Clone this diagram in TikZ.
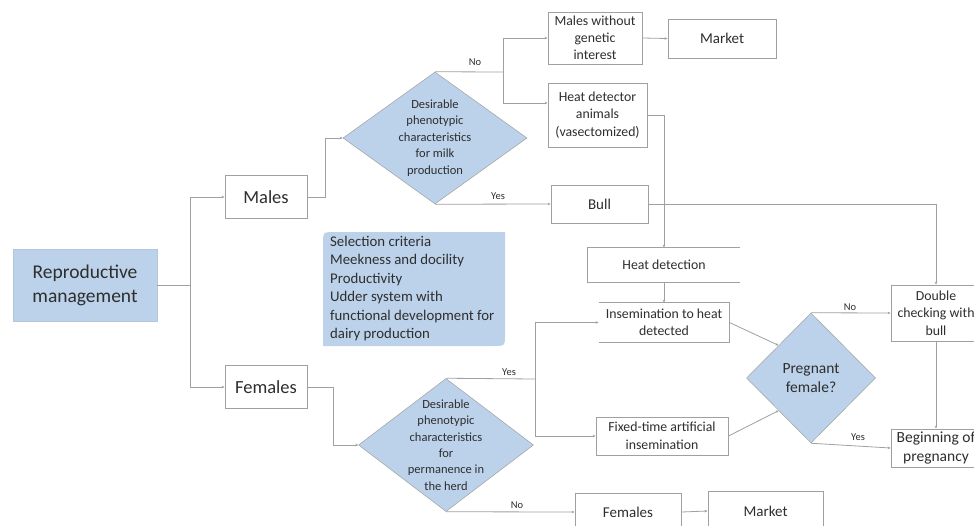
\documentclass[tikz,border=0pt]{standalone}
\usepackage{fontspec}
\setmainfont{Carlito}
\usetikzlibrary{shapes.geometric,arrows.meta,calc}
\definecolor{boxblue}{HTML}{BCD2EA}
\definecolor{edgegray}{HTML}{A0A0A0}
\definecolor{ink}{HTML}{2E2E2E}
\tikzset{
  box/.style={draw=edgegray, line width=0.9pt, fill=white, inner sep=0pt,
    align=center, text=ink, font=\fontsize{13.8}{17.5}\selectfont},
  openbox/.style={box, draw=none},
  bigtext/.style={font=\fontsize{18.5}{22}\selectfont},
  roottext/.style={font=\fontsize{19.5}{24}\selectfont},
  midtext/.style={font=\fontsize{15}{18}\selectfont},
  decide/.style={diamond, draw=edgegray, fill=boxblue, line width=0.5pt, inner sep=0pt},
  decidetext/.style={align=center, text=ink, font=\fontsize{12.5}{16.4}\selectfont},
  flow/.style={draw=edgegray, line width=0.8pt},
  arr/.style={flow, -{Stealth[length=3pt,width=2.6pt]}},
  lab/.style={font=\fontsize{10.5}{12}\selectfont, text=ink},
  rim/.style={draw=edgegray, line width=0.9pt},
}
\begin{document}
\begin{tikzpicture}[x=1pt,y=-1pt]
\useasboundingbox (0,0) rectangle (974,525);
\clip (0,0) rectangle (974,525);

% root and the two herd groups
\node[box, fill=boxblue, draw=boxblue!85!gray, roottext, minimum width=144, minimum height=72] (rm) at (85,285) {Reproductive\\management};
\node[box, bigtext, minimum width=82, minimum height=43] (males) at (266,197) {Males};
\node[box, bigtext, minimum width=82, minimum height=43] (females) at (266,387) {Females};

% decision on males
\node[decide, minimum width=184, minimum height=132] (d1) at (435,138) {};
\node[decidetext] (d1t) at (d1) {Desirable\\phenotypic\\characteristics\\for milk\\production};

\node[box, font=\fontsize{13.8}{17}\selectfont, minimum width=94, minimum height=52] (mwgi) at (595,38) {Males without\\genetic\\interest};
\node[box, midtext, minimum width=108, minimum height=39] (market1) at (722,38.5) {Market};
\node[box, minimum width=99, minimum height=64] (hda) at (597.5,115) {Heat detector\\animals\\(vasectomized)};
\node[box, midtext, minimum width=97, minimum height=38] (bull) at (599.5,204) {Bull};

% selection criteria note
\fill[boxblue] (323,244) .. controls (323,232) .. (335,232) -- (505,232) -- (505,334)
  .. controls (505,346) .. (493,346) -- (323,346) -- cycle;
\node[anchor=north west, align=left, inner sep=0pt, text=ink, font=\fontsize{14.8}{18.4}\selectfont] (crit) at (330,236)
  {Selection criteria\\Meekness and docility\\Productivity\\Udder system with\\functional development for\\dairy production};

% heat detection and insemination
\node[openbox, minimum width=152, minimum height=34] (hd) at (664,265) {Heat detection};
\draw[rim] (hd.north east) -- (hd.north west) -- (hd.south west) -- (hd.south east);
\node[openbox, minimum width=130, minimum height=39] (ins) at (664,322.5) {Insemination to heat\\detected};
\draw[rim] (ins.north west) -- (ins.north east) -- (ins.south east) -- (ins.south west);
\node[box, minimum width=132, minimum height=38] (ft) at (662,436) {Fixed-time artificial\\insemination};

% pregnancy check
\node[decide, minimum width=129, minimum height=130] (pd) at (811,378) {};
\node[decidetext, font=\fontsize{15.5}{19}\selectfont] (pdt) at (pd) {Pregnant\\female?};
\node[box, minimum width=90, minimum height=56] (dc) at (936,313) {Double\\checking with\\bull};
\node[box, font=\fontsize{15.5}{19}\selectfont, minimum width=90, minimum height=38] (bp) at (936,448) {Beginning of\\pregnancy};

% decision on females
\node[decide, minimum width=175, minimum height=133] (d2) at (446,445) {};
\node[decidetext] (d2t) at (d2) {Desirable\\phenotypic\\characteristics\\for\\permanence in\\the herd};
\node[box, midtext, minimum width=106, minimum height=38] (f2) at (628,512) {Females};
\node[box, midtext, minimum width=115, minimum height=40] (market2) at (765.5,511) {Market};

% connectors
\coordinate (j1) at (190,285);
\draw[flow] (rm.east) -- (j1);
\draw[arr] (j1) |- (males.west);
\draw[arr] (j1) |- (females.west);

\draw[arr] (males.east) -- ++(18,0) |- (d1.west);
\coordinate (j3) at (503,72);
\draw[flow] (d1.north) -- (j3);
\draw[arr] (j3) |- (mwgi.west);
\draw[arr] (j3) |- ($(hda.west)+(0,-12)$);
\node[lab] (no1) at (475,62) {No};
\draw[arr] (mwgi.east) -- (market1.west);
\draw[arr] (d1.south) -- (bull.west);
\node[lab] (yes1) at (498,196) {Yes};

\draw[arr] (hda.east) -| (hd.north);
\draw[arr] (hd.south) -- (ins.north);
\draw[arr] (bull.east) -| (dc.north);

\draw[arr] (ins.east) -- (pd.north west);
\draw[arr] (ft.east) -- (pd.south west);
\draw[arr] (pd.north) -- (dc.west);
\node[lab] (no2) at (850,307) {No};
\draw[arr] (dc.south) -- (bp.north);
\draw[arr] (pd.south) -- (bp.west);
\node[lab] (yes2) at (858,437) {Yes};

\draw[arr] (females.east) -- ++(26,0) |- (d2.west);
\coordinate (j4) at (535,379);
\draw[flow] (d2.north) -- (j4);
\draw[arr] (j4) |- (ins.west);
\draw[arr] (j4) |- (ft.west);
\node[lab] (yes3) at (509,372) {Yes};
\draw[arr] (d2.south) -- (f2.west);
\node[lab] (no3) at (517,505) {No};
\draw[arr] (f2.east) -- (market2.west);
\end{tikzpicture}
\end{document}
